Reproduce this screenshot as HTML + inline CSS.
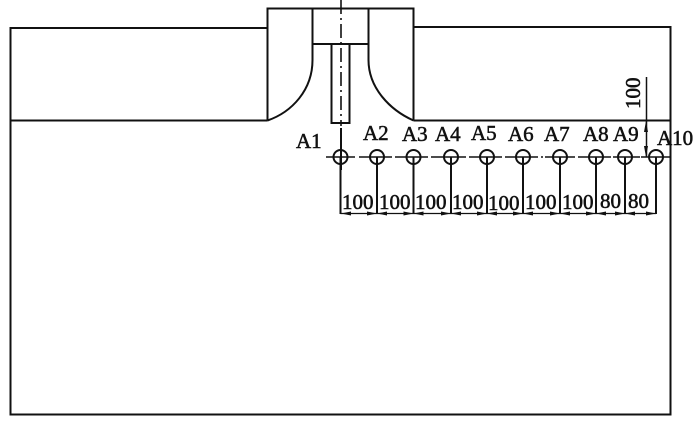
<!DOCTYPE html>
<html>
<head>
<meta charset="utf-8">
<style>
html,body{margin:0;padding:0;background:#fff;width:700px;height:428px;overflow:hidden}
svg{display:block}
text{font-family:"Liberation Serif",serif;fill:#111;stroke:#111;stroke-width:.55px;font-size:21px}
</style>
</head>
<body>
<svg width="700" height="428" viewBox="0 0 700 428" xmlns="http://www.w3.org/2000/svg">
<g fill="none" stroke="#111" stroke-width="2">
  <!-- body outline -->
  <path d="M267.500 28H10.500V414.500H670.500V27H413.500"/>
  <path d="M10.500 120.500H267.500"/>
  <path d="M413.500 120.500H670.500"/>
  <!-- top block -->
  <path d="M267.500 120.500V8.500H413.500V120.500"/>
  <path d="M312.500 8.500V60C312.500 90 292 112 267.500 120.500"/>
  <path d="M368.500 8.500V60C368.500 88 390 110 413.500 120.500"/>
  <path d="M312.500 44H368.500"/>
  <!-- shaft -->
  <path d="M331.500 44V123H349.500V44"/>
  <!-- centerline -->
  <path d="M341 0V126" stroke-width="1.600" stroke-dasharray="14 4 2 4"/>
  <path d="M341 128V170" stroke-width="2"/>
  <!-- horizontal centerline -->
  <path d="M326 157H355M360 157H362M359 157H392M395 157H397M397 157H428M431 157H433M433 157H466M469 157H471M471 157H502M505 157H507M507 157H538M541 157H543M545 157H575M578 157H580M578 157H611M613 157H615M613 157H640M641 157H671" stroke-width="1.600"/>
  <!-- circles -->
  <circle cx="340.500" cy="157" r="7"/>
  <circle cx="377" cy="157" r="7"/>
  <circle cx="413.500" cy="157" r="7"/>
  <circle cx="451" cy="157" r="7"/>
  <circle cx="487" cy="157" r="7"/>
  <circle cx="523" cy="157" r="7"/>
  <circle cx="560" cy="157" r="7"/>
  <circle cx="596" cy="157" r="7"/>
  <circle cx="625" cy="157" r="7"/>
  <circle cx="656" cy="157" r="7"/>
  <!-- extension lines -->
  <path d="M340.500 157V214M377 157V214M413.500 157V214M451 157V214M487 157V214M523 157V214M560 157V214M596 157V214M625 157V214M656 157V214"/>
  <!-- dim line -->
  <path d="M340.500 213.500H656" stroke-width="1.300"/>
  <!-- vertical dim -->
  <path d="M646.500 77V157" stroke-width="1.500"/>
</g>
<!-- arrowheads -->
<g fill="#111">
  <path d="M341 213.500l10-2v4zM377 213.500l-10-2v4zM377 213.500l10-2v4zM413.500 213.500l-10-2v4zM413.500 213.500l10-2v4zM451 213.500l-10-2v4zM451 213.500l10-2v4zM487 213.500l-10-2v4zM487 213.500l10-2v4zM523 213.500l-10-2v4zM523 213.500l10-2v4zM560 213.500l-10-2v4zM560 213.500l10-2v4zM596 213.500l-10-2v4zM596 213.500l10-2v4zM625 213.500l-10-2v4zM625 213.500l10-2v4zM656 213.500l-10-2v4z"/>
  <path d="M646 121l-2 11h4zM646 157l-2-11h4z"/>
</g>
<!-- point labels -->
<text x="296" y="148">A1</text>
<text x="363" y="140">A2</text>
<text x="402" y="141">A3</text>
<text x="435" y="141">A4</text>
<text x="471" y="140">A5</text>
<text x="508" y="141">A6</text>
<text x="544" y="141">A7</text>
<text x="583" y="141">A8</text>
<text x="613" y="141">A9</text>
<text x="657" y="145">A10</text>
<!-- dimension labels -->
<text x="342" y="209">100</text>
<text x="379" y="209">100</text>
<text x="415" y="209">100</text>
<text x="452" y="209">100</text>
<text x="488" y="210">100</text>
<text x="525" y="209">100</text>
<text x="562" y="209">100</text>
<text x="600" y="208">80</text>
<text x="628" y="208">80</text>
<text transform="translate(640 109) rotate(-90)">100</text>
</svg>
</body>
</html>
